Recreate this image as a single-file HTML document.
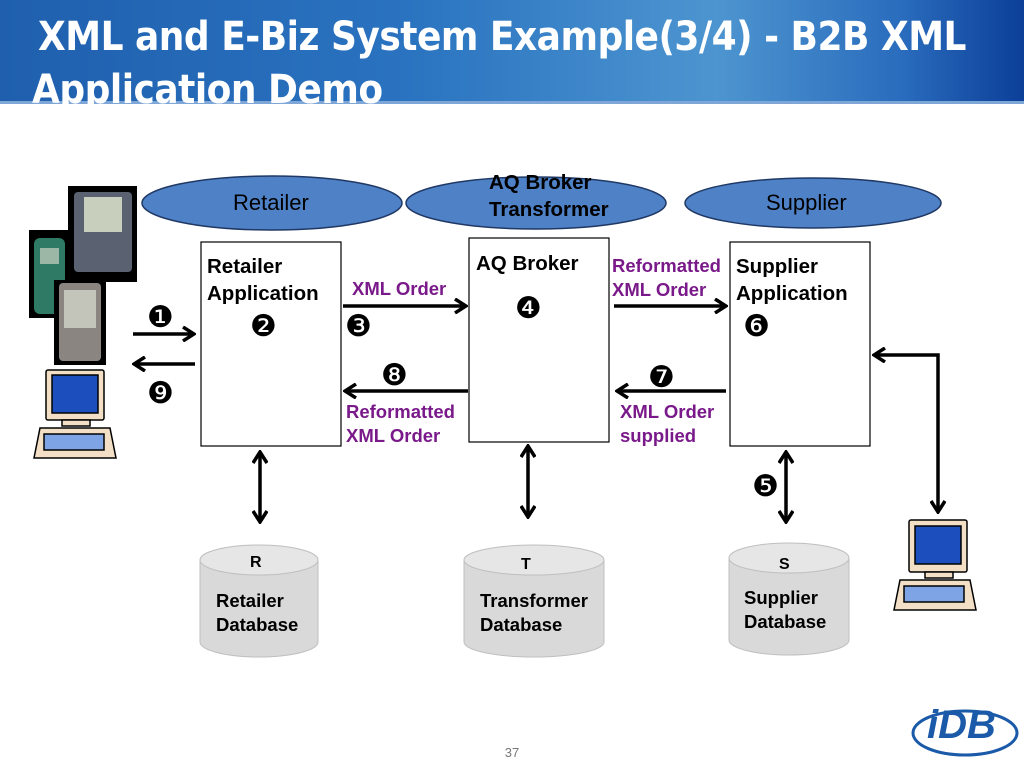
<!DOCTYPE html>
<html><head><style>
body{margin:0;width:1024px;height:768px;position:relative;overflow:hidden;background:#fff;font-family:"Liberation Sans",sans-serif}
.hdr{position:absolute;left:0;top:0;width:1024px;height:103px;background:linear-gradient(90deg,#1f5fae 0%,#2a73c0 40%,#4d95d0 70%,#2a6cbd 88%,#0c3f98 100%)}
.hdr:after{content:"";position:absolute;left:0;top:101px;width:1024px;height:3px;background:#7ea7d8}
.t{position:absolute;color:#fff;font-family:"DejaVu Sans Condensed","Liberation Sans Narrow",sans-serif;font-weight:bold;font-size:40px;letter-spacing:-0.5px;white-space:nowrap}
.l{position:absolute;font-size:20.5px;font-weight:bold;color:#000;line-height:27px;white-space:nowrap}
.p{position:absolute;font-size:18.5px;font-weight:bold;color:#7a1a8a;line-height:24px;white-space:nowrap}
.d{position:absolute;font-size:18.5px;font-weight:bold;color:#000;line-height:24px}
.n{position:absolute;font-size:30px;line-height:30px;color:#000;font-family:"DejaVu Sans",sans-serif}
</style></head><body>
<div class="hdr"></div>
<div class="t" style="left:38px;top:14px">XML and E-Biz System Example(3/4) - B2B XML</div>
<div class="t" style="left:32px;top:67px">Application Demo</div>
<svg width="1024" height="768" style="position:absolute;left:0;top:0">
<defs><marker id="a" markerWidth="14" markerHeight="16" refX="12" refY="8" orient="auto-start-reverse" markerUnits="userSpaceOnUse"><path d="M1,1 L12,8 L1,15" fill="none" stroke="#000" stroke-width="3.5"/></marker></defs>
<g fill="#4f81c7" stroke="#1f3864" stroke-width="1.5">
<ellipse cx="272" cy="203" rx="130" ry="27"/><ellipse cx="536" cy="203" rx="130" ry="26"/><ellipse cx="813" cy="203" rx="128" ry="25"/></g>
<g fill="#fff" stroke="#000" stroke-width="1.2">
<rect x="201" y="242" width="140" height="204"/><rect x="469" y="238" width="140" height="204"/><rect x="730" y="242" width="140" height="204"/></g>
<g fill="#d9d9d9" stroke="#bfbfbf">
<path d="M200,560 v82 a59,15 0 0 0 118,0 v-82"/><ellipse cx="259" cy="560" rx="59" ry="15" fill="#e6e6e6"/>
<path d="M464,560 v82 a70,15 0 0 0 140,0 v-82"/><ellipse cx="534" cy="560" rx="70" ry="15" fill="#e6e6e6"/>
<path d="M729,558 v82 a60,15 0 0 0 120,0 v-82"/><ellipse cx="789" cy="558" rx="60" ry="15" fill="#e6e6e6"/></g>
<g stroke="#000" stroke-width="3.5" fill="none">
<line x1="133" y1="334" x2="194" y2="334" marker-end="url(#a)"/>
<line x1="195" y1="364" x2="134" y2="364" marker-end="url(#a)"/>
<line x1="343" y1="306" x2="466" y2="306" marker-end="url(#a)"/>
<line x1="468" y1="391" x2="345" y2="391" marker-end="url(#a)"/>
<line x1="614" y1="306" x2="726" y2="306" marker-end="url(#a)"/>
<line x1="726" y1="391" x2="617" y2="391" marker-end="url(#a)"/>
<line x1="260" y1="452" x2="260" y2="522" marker-start="url(#a)" marker-end="url(#a)"/>
<line x1="528" y1="446" x2="528" y2="517" marker-start="url(#a)" marker-end="url(#a)"/>
<line x1="786" y1="452" x2="786" y2="522" marker-start="url(#a)" marker-end="url(#a)"/>
<polyline points="938,512 938,355 874,355" marker-start="url(#a)" marker-end="url(#a)"/>
</g>
<rect x="68" y="186" width="69" height="96" fill="#000"/><rect x="74" y="192" width="58" height="80" fill="#5a6170" rx="4"/><rect x="84" y="197" width="38" height="35" fill="#c9cfbd"/>
<rect x="29" y="230" width="41" height="88" fill="#000"/><rect x="34" y="238" width="31" height="76" fill="#2f7a64" rx="6"/><rect x="40" y="248" width="19" height="16" fill="#9cb7a5"/>
<rect x="54" y="280" width="52" height="85" fill="#000"/><rect x="59" y="283" width="42" height="78" fill="#8a8580" rx="4"/><rect x="64" y="290" width="32" height="38" fill="#c3c5bb"/>
<g stroke="#000" stroke-width="1.5">
<rect x="46" y="370" width="58" height="50" fill="#f2dfc6" rx="2"/><rect x="52" y="375" width="46" height="38" fill="#1c4fbd"/><rect x="62" y="420" width="28" height="6" fill="#f2dfc6"/>
<path d="M40,428 h70 l6,30 h-82 z" fill="#f2dfc6"/><rect x="44" y="434" width="60" height="16" fill="#7fa4e6"/>
<rect x="909" y="520" width="58" height="52" fill="#f2dfc6" rx="2"/><rect x="915" y="526" width="46" height="38" fill="#1c4fbd"/><rect x="925" y="572" width="28" height="6" fill="#f2dfc6"/>
<path d="M900,580 h70 l6,30 h-82 z" fill="#f2dfc6"/><rect x="904" y="586" width="60" height="16" fill="#7fa4e6"/>
</g>
<ellipse cx="965" cy="733" rx="52" ry="22" fill="none" stroke="#1a5aa8" stroke-width="3"/>
<text x="927" y="738" font-family="Liberation Sans" font-size="40" font-style="italic" font-weight="bold" fill="#1a5aa8">iDB</text>
<text x="512" y="757" font-family="Liberation Sans" font-size="13" fill="#777" text-anchor="middle">37</text>
</svg>
<div style="position:absolute;left:233px;top:190px;font-size:22px">Retailer</div>
<div style="position:absolute;left:766px;top:190px;font-size:22px">Supplier</div>
<div class="l" style="left:489px;top:169px;line-height:27px">AQ Broker<br>Transformer</div>
<div class="l" style="left:207px;top:253px">Retailer<br>Application</div>
<div class="l" style="left:476px;top:250px">AQ Broker</div>
<div class="l" style="left:736px;top:253px">Supplier<br>Application</div>
<div class="p" style="left:352px;top:277px">XML Order</div>
<div class="p" style="left:612px;top:254px">Reformatted<br>XML Order</div>
<div class="p" style="left:346px;top:400px">Reformatted<br>XML Order</div>
<div class="p" style="left:620px;top:400px">XML Order<br>supplied</div>
<div class="n" style="left:147px;top:303px">❶</div>
<div class="n" style="left:250px;top:312px">❷</div>
<div class="n" style="left:345px;top:312px">❸</div>
<div class="n" style="left:515px;top:294px">❹</div>
<div class="n" style="left:752px;top:472px">❺</div>
<div class="n" style="left:743px;top:312px">❻</div>
<div class="n" style="left:648px;top:363px">❼</div>
<div class="n" style="left:381px;top:361px">❽</div>
<div class="n" style="left:147px;top:379px">❾</div>
<div class="l" style="left:250px;top:549px;font-size:16px">R</div>
<div class="l" style="left:521px;top:551px;font-size:16px">T</div>
<div class="l" style="left:779px;top:551px;font-size:16px">S</div>
<div class="d" style="left:216px;top:589px">Retailer<br>Database</div>
<div class="d" style="left:480px;top:589px">Transformer<br>Database</div>
<div class="d" style="left:744px;top:586px">Supplier<br>Database</div>
</body></html>
